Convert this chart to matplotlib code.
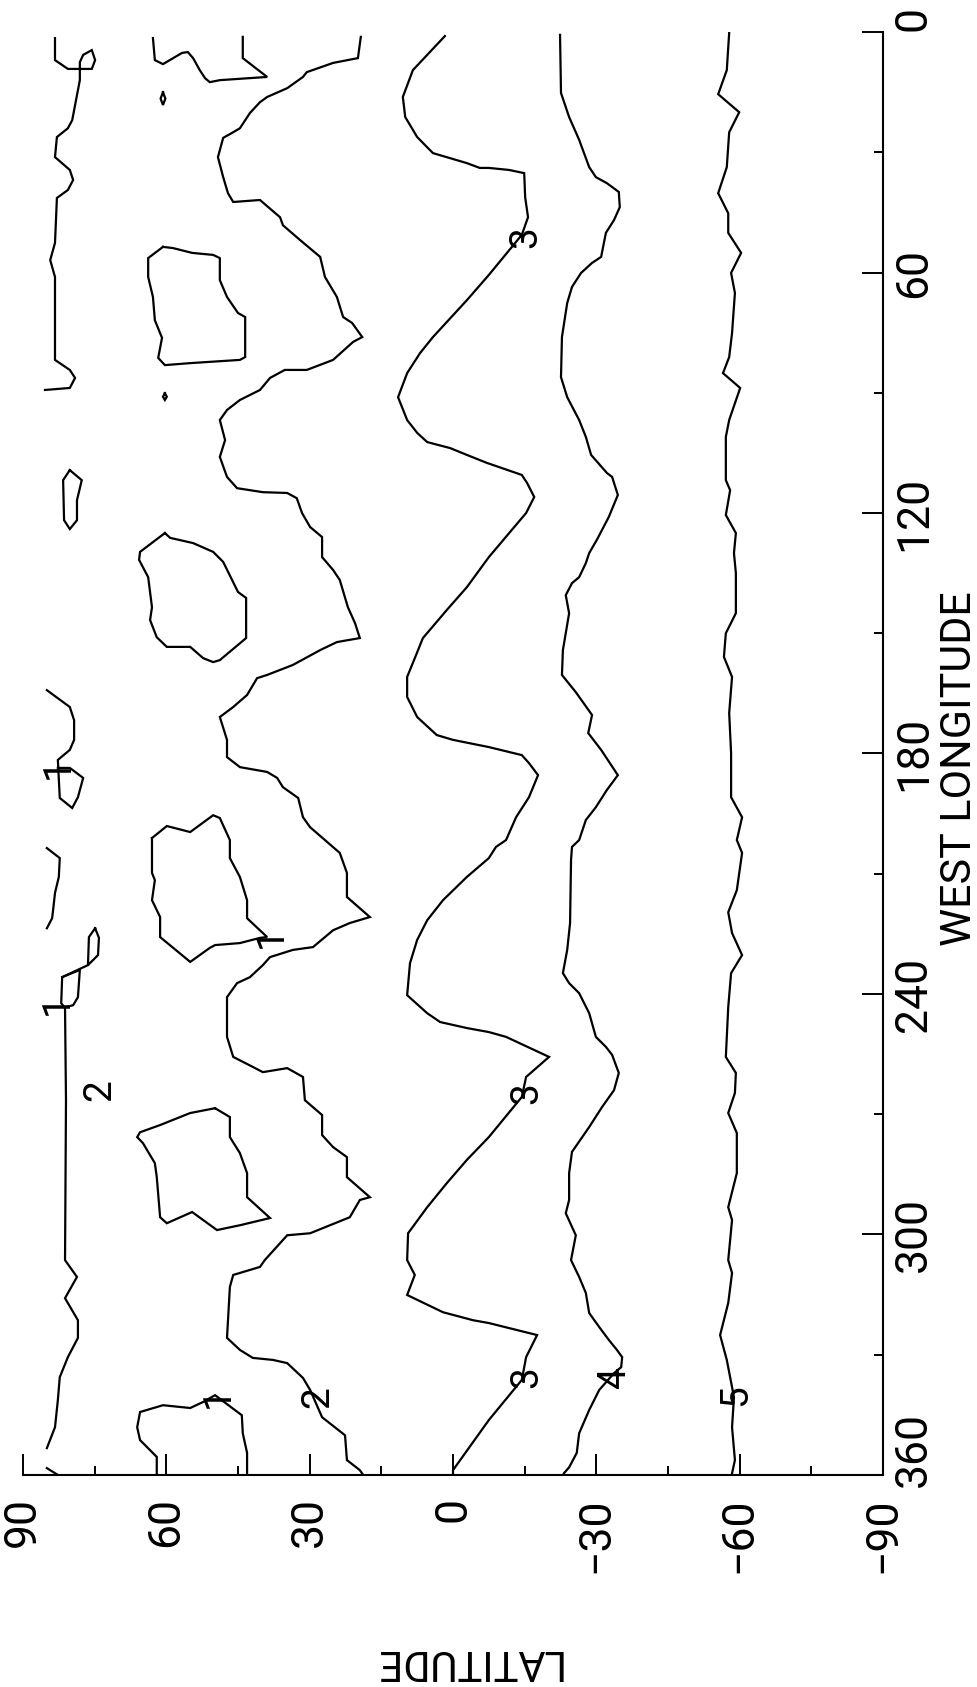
import matplotlib.pyplot as plt
import matplotlib.transforms as mtransforms

plt.rcParams['font.family'] = ['Roboto', 'DejaVu Sans']

# contour lines as (west longitude, latitude)
c5_lon = [0.2, 9.5, 15.5, 20.0, 25.0, 33.7, 40.2, 45.2, 50.1, 55.1, 60.1, 65.1, 75.1, 81.1, 85.1, 88.8,
          96.8, 101.0, 111.8, 114.3, 120.5, 125.0, 130.0, 135.0, 145.0, 150.0, 155.9, 160.9, 169.9, 179.9,
          190.9, 195.9, 201.6, 204.8, 214.1, 219.6, 224.8, 230.3, 234.8, 243.3, 255.7, 259.7, 264.7, 269.7,
          274.7, 284.7, 293.2, 296.4, 306.4, 309.6, 317.1, 325.1, 331.3, 338.1, 340.6, 348.1, 356.3, 359.6]
c5_lat = [-57.8, -57.3, -55.5, -59.9, -57.8, -57.3, -55.5, -57.6, -57.6, -60.3, -58.2, -59.0, -58.4, -57.8,
          -56.5, -60.1, -57.8, -57.1, -57.1, -58.0, -57.1, -59.2, -58.8, -59.2, -59.2, -57.1, -56.7, -58.4,
          -57.8, -58.2, -58.2, -60.5, -59.4, -60.5, -59.4, -57.6, -58.4, -60.5, -58.2, -57.6, -57.1, -59.2,
          -59.0, -57.6, -59.4, -59.4, -57.6, -58.4, -57.6, -58.4, -57.6, -55.9, -57.3, -58.4, -58.8, -58.4,
          -59.0, -58.4]

c4_lon = [0.7, 15.2, 21.2, 26.9, 33.7, 36.2, 37.7, 39.9, 43.7, 46.9, 50.1, 56.1, 57.6, 60.1, 63.6, 67.6,
          76.1, 86.1, 91.1, 96.8, 101.0, 105.5, 110.0, 111.0, 115.5, 121.0, 126.7, 130.0, 132.5, 136.0,
          137.5, 140.5, 145.0, 154.2, 160.4, 164.7, 170.4, 174.9, 179.1, 185.4, 189.1, 193.4, 196.6, 201.6,
          203.3, 206.6, 222.3, 229.0, 234.8, 237.3, 239.8, 244.8, 250.7, 253.2, 255.2, 259.7, 264.0, 268.2,
          273.2, 279.4, 284.7, 291.4, 294.7, 300.2, 306.4, 310.6, 314.6, 319.6, 323.1, 326.3, 328.8, 330.6,
          333.1, 334.6, 338.8, 343.8, 349.6, 354.5, 358.1, 359.6]
c4_lat = [-22.4, -22.6, -24.3, -26.4, -28.5, -29.9, -32.2, -34.7, -34.9, -33.7, -32.0, -31.0, -29.1, -26.8,
          -24.9, -23.9, -22.8, -22.6, -23.9, -26.4, -27.8, -28.9, -32.2, -33.3, -34.5, -32.6, -30.1, -28.5,
          -27.8, -26.4, -24.9, -23.6, -24.3, -23.0, -22.8, -25.7, -29.1, -28.3, -31.0, -34.5, -32.2, -29.9,
          -27.8, -26.4, -24.9, -24.7, -24.5, -23.9, -23.0, -24.3, -26.4, -28.5, -29.9, -32.0, -33.3, -34.7,
          -33.7, -31.2, -28.5, -24.9, -24.3, -24.3, -23.6, -25.7, -24.7, -26.4, -27.8, -28.5, -30.6, -32.6,
          -34.3, -35.4, -35.2, -33.7, -30.6, -28.5, -26.4, -25.9, -24.3, -23.2]

c3_lon = [1.0, 9.5, 16.2, 21.2, 26.2, 30.2, 32.7, 33.9, 33.9, 34.4, 35.2, 41.2, 46.2, 50.6, 60.6, 66.9,
          76.1, 80.1, 85.1, 91.1, 96.8, 100.0, 102.3, 103.8, 105.5, 107.5, 110.5, 112.5, 116.0, 120.0,
          131.0, 138.5, 144.2, 151.2, 157.4, 160.9, 165.9, 170.9, 175.4, 176.6, 178.4, 180.4, 182.4, 185.4,
          190.9, 195.9, 201.6, 203.3, 206.1, 210.8, 216.6, 221.6, 226.5, 232.3, 240.3, 244.8, 247.0, 248.5,
          249.5, 250.7, 255.7, 260.7, 265.7, 275.7, 281.4, 287.2, 293.2, 299.7, 306.4, 310.1, 315.1, 319.4,
          321.4, 322.1, 325.1, 330.6, 336.3, 346.3, 358.8, 360.0]
c3_lat = [1.7, 8.4, 10.5, 10.0, 7.5, 4.2, -2.9, -5.6, -7.5, -11.7, -14.9, -15.1, -15.7, -14.4, -7.5, -2.9,
          4.2, 6.9, 9.6, 11.5, 9.6, 7.5, 5.4, 0.6, -2.9, -7.1, -14.4, -15.5, -17.0, -15.3,
          -7.5, -2.9, 1.3, 6.3, 8.4, 9.6, 9.6, 7.5, 3.4, 0.0, -7.5, -14.4, -15.9, -17.8,
          -15.9, -13.2, -11.1, -9.0, -7.5, -2.9, 2.1, 5.4, 7.5, 9.0, 9.6, 5.4, 2.7, -2.9,
          -7.5, -11.1, -20.1, -15.3, -14.4, -7.5, -2.9, 1.3, 5.4, 9.4, 9.6, 8.0, 9.6, 2.1,
          -4.2, -7.5, -17.6, -15.3, -14.4, -7.5, 0.0, 0.0]

c2_lon = [1.2, 6.5, 7.7, 10.0, 11.2, 14.0, 16.2, 17.5, 20.2, 24.0, 25.2, 26.4, 31.2, 36.2, 40.2, 42.4,
          41.9, 46.2, 48.2, 51.9, 56.1, 61.1, 66.1, 71.1, 72.6, 76.1, 77.3, 81.8, 84.3, 84.3, 86.3, 89.3,
          91.8, 94.3, 96.8, 101.8, 106.0, 111.0, 113.8, 114.8, 115.0, 116.3, 120.0, 123.5, 126.0, 131.0,
          134.2, 136.7, 143.5, 147.5, 151.2, 152.2, 154.2, 157.9, 160.4, 161.2, 165.4, 168.4, 170.9, 176.6,
          180.9, 183.4, 184.6, 186.1, 188.4, 191.1, 195.9, 198.4, 201.6, 204.8, 209.8, 215.8, 220.8, 222.3,
          224.1, 228.3, 229.0, 230.8, 232.8, 235.8, 237.3, 240.8, 250.7, 255.7, 258.2, 259.5, 258.5, 260.7,
          266.5, 270.2, 275.2, 278.2, 280.7, 285.7, 290.7, 291.4, 295.7, 299.7, 300.2, 306.4, 308.1, 310.1,
          313.1, 325.8, 328.8, 330.8, 331.3, 332.1, 335.8, 338.8, 345.6, 350.1, 356.3, 358.8, 360.0]
c2_lat = [19.3, 19.9, 25.1, 30.6, 31.4, 34.7, 38.9, 40.4, 42.5, 44.6, 46.3, 48.1, 49.2, 48.1, 47.1, 46.0,
          40.4, 36.2, 35.6, 32.0, 27.8, 26.8, 24.3, 23.0, 21.1, 19.0, 20.9, 25.1, 30.6, 35.2, 38.3, 40.4,
          44.6, 47.3, 48.8, 47.7, 48.8, 47.3, 45.2, 39.8, 34.7, 32.7, 31.6, 29.9, 27.4, 27.4,
          25.1, 23.7, 22.0, 20.5, 19.5, 24.3, 27.8, 33.5, 38.9, 41.0, 43.1, 46.0, 48.8, 47.3,
          47.3, 44.6, 38.9, 36.8, 35.6, 32.4, 31.4, 29.9, 26.8, 23.7, 22.2, 22.2, 17.4, 21.6,
          25.1, 29.3, 33.5, 38.3, 39.8, 42.5, 45.2, 47.3, 47.3, 46.0, 41.9, 39.8, 34.7, 31.4,
          31.0, 27.4, 27.4, 25.1, 22.2, 22.2, 17.4, 19.5, 21.6, 29.9, 34.7, 39.4, 40.4, 46.0,
          46.7, 47.3, 44.6, 41.9, 37.7, 34.7, 31.4, 29.9, 27.4, 22.6, 22.2, 19.5, 18.8]

# closed cells between 40N and 65N
isl_a_lon = [53.6, 56.4, 61.1, 66.1, 71.9, 76.3, 81.3, 83.1, 82.6, 81.8, 81.1, 71.1, 70.1, 66.1, 61.9,
             56.4, 55.6, 55.1, 53.9, 53.6]
isl_a_lat = [60.7, 63.8, 63.8, 62.8, 62.4, 60.9, 61.7, 60.3, 55.0, 44.6, 43.5, 43.5, 45.0, 47.3, 48.8,
             48.8, 50.2, 54.6, 58.6, 60.7]
isl_b_lon = [125.0, 129.7, 131.7, 136.0, 143.5, 146.7, 151.0, 153.4, 153.4, 156.2, 157.2, 156.7, 151.2,
             141.2, 139.7, 132.2, 129.7, 127.5, 126.2, 125.0]
isl_b_lat = [60.3, 65.5, 65.7, 63.8, 63.0, 63.4, 62.0, 59.9, 55.0, 52.3, 50.2, 48.8, 43.3, 43.3, 45.0,
             48.1, 50.2, 54.4, 59.2, 60.3]
isl_c_lon = [201.1, 209.8, 211.6, 216.6, 220.8, 225.8, 232.0, 228.5, 227.8, 227.3, 226.0, 225.8, 221.1,
             216.6, 210.8, 206.1, 201.6, 196.1, 195.4, 199.6, 198.1, 201.1]
isl_c_lat = [63.0, 63.0, 62.4, 63.0, 61.3, 61.3, 55.0, 50.9, 49.8, 44.6, 40.4, 38.9, 43.1, 43.1, 44.6,
             46.7, 46.7, 48.8, 50.2, 55.0, 59.9, 63.0]
isl_d_lon = [268.5, 270.7, 275.7, 279.7, 284.7, 290.7, 295.9, 297.7, 298.9, 294.4, 297.2, 295.7, 285.7,
             282.2, 277.2, 275.7, 274.5, 272.7, 269.7, 268.5]
isl_d_lat = [49.8, 46.7, 46.7, 44.6, 43.1, 43.1, 38.3, 44.6, 49.4, 54.6, 59.9, 61.3, 62.0, 62.4, 64.9,
             66.1, 65.5, 61.3, 55.0, 49.8]
isl_e_lon = [109.3, 111.8, 116.8, 121.8, 124.0, 121.8, 111.8, 109.3]
isl_e_lat = [80.2, 77.7, 78.7, 78.7, 80.2, 81.4, 81.6, 80.2]
dot1_lon = [15.0, 16.6, 18.2, 16.6, 15.0]
dot1_lat = [60.7, 60.2, 60.7, 61.2, 60.7]
dot2_lon = [90.1, 91.0, 91.8, 91.0, 90.1]
dot2_lat = [60.3, 59.9, 60.3, 60.7, 60.3]

# broken lines near the pole
p1_lon = [1.5, 7.0, 9.2, 9.2, 7.0, 4.5, 5.7, 7.5, 12.0, 22.0, 24.0, 26.2, 31.2, 34.4, 36.9, 39.4, 41.4,
          52.6, 56.9, 61.1, 81.8, 84.3, 86.3, 88.8, 89.3]
p1_lat = [83.3, 83.3, 80.6, 75.6, 74.9, 75.6, 77.4, 78.1, 78.1, 79.7, 80.6, 82.9, 83.3, 80.2, 79.5, 80.6,
          82.9, 83.3, 84.3, 83.3, 83.3, 80.2, 79.1, 80.2, 85.4]
p2_lon = [1.5, 7.0, 8.0, 5.2, 5.0, 6.5, 9.5, 11.5, 12.5, 12.0, 11.2, 6.5, 1.2]
p2_lat = [62.8, 62.4, 60.7, 56.7, 55.5, 54.4, 53.0, 51.9, 50.9, 48.8, 38.9, 44.0, 44.0]
p3_lon = [164.2, 168.4, 171.7, 176.6, 179.1, 181.6, 191.1, 193.6, 190.9, 186.1, 183.6, 183.6]
p3_lat = [85.0, 80.2, 79.3, 79.3, 80.2, 82.7, 82.3, 79.7, 78.5, 77.4, 80.2, 82.7]
p4_lon = [203.6, 206.1, 210.8, 214.8, 219.1, 221.1, 223.6]
p4_lat = [85.0, 82.3, 82.5, 83.3, 83.7, 83.9, 85.0]
p5_lon = [223.6, 226.0, 230.3, 232.8, 225.8, 223.6]
p5_lat = [74.9, 74.1, 74.3, 76.4, 76.2, 74.9]
p6_lon = [232.8, 235.8, 242.3, 243.5, 266.5, 306.4, 310.6, 315.9, 321.4, 325.8, 330.6, 335.6, 341.3,
          348.1, 353.3]
p6_lat = [76.4, 81.8, 82.0, 81.2, 81.0, 81.2, 78.7, 81.2, 78.5, 78.5, 80.6, 82.3, 82.7, 83.3, 85.0]
p7_lon = [235.8, 234.0, 240.8, 242.8, 243.3]
p7_lat = [81.8, 78.1, 78.5, 79.5, 81.2]
p8_lon = [358.3, 360.0]
p8_lat = [85.0, 82.7]
p9_lon = [360.0, 355.5, 351.3, 348.1, 344.3, 342.6, 343.3, 341.8, 340.1, 345.1, 349.6, 354.5, 360.0]
p9_lat = [62.0, 62.0, 65.5, 66.1, 65.5, 60.7, 55.0, 52.3, 49.8, 44.2, 44.0, 43.1, 43.1]

# contour labels
lab_text = ['3', '3', '3', '4', '5', '2', '2', '1', '1', '1', '1']
lab_lon = [51.1, 264.7, 335.6, 335.6, 340.1, 340.6, 264.0, 225.8, 340.6, 183.6, 242.5]
lab_lat = [-15.3, -15.5, -15.5, -33.7, -59.2, 28.3, 73.9, 38.1, 49.2, 82.7, 82.9]

lat_ticks = [90, 60, 30, 0, -30, -60, -90]
lat_minor = [75, 45, 15, -15, -45, -75]
lon_ticks = [0, 60, 120, 180, 240, 300, 360]
lon_minor = [30, 90, 150, 210, 270, 330]

fig = plt.figure(figsize=(9.78, 16.87), dpi=100)
ax = fig.add_axes([0.0235, 0.1257, 0.8794, 0.8553])

lines = [(c5_lon, c5_lat), (c4_lon, c4_lat), (c3_lon, c3_lat), (c2_lon, c2_lat),
         (isl_a_lon, isl_a_lat), (isl_b_lon, isl_b_lat), (isl_c_lon, isl_c_lat),
         (isl_d_lon, isl_d_lat), (isl_e_lon, isl_e_lat), (dot1_lon, dot1_lat), (dot2_lon, dot2_lat),
         (p1_lon, p1_lat), (p2_lon, p2_lat), (p3_lon, p3_lat), (p4_lon, p4_lat), (p5_lon, p5_lat),
         (p6_lon, p6_lat), (p7_lon, p7_lat), (p8_lon, p8_lat), (p9_lon, p9_lat)]
for lon, lat in lines:
    ax.plot(lat, lon, color='black', lw=1.6, solid_joinstyle='miter')

for t, lo, la in zip(lab_text, lab_lon, lab_lat):
    ax.text(la, lo, t, rotation=90, ha='center', va='center', fontsize=28)

# latitude runs right to left, longitude top to bottom (chart turned on its side)
ax.set_xlim(90, -90)
ax.set_ylim(360, 0)

ax.spines['top'].set_visible(False)
ax.spines['left'].set_visible(False)
ax.spines['bottom'].set_linewidth(1.5)
ax.spines['right'].set_linewidth(1.5)

ax.set_xticks(lat_ticks)
ax.set_xticklabels([str(t).replace('-', '\u2212') for t in lat_ticks])
ax.set_xticks(lat_minor, minor=True)
ax.yaxis.tick_right()
ax.set_yticks(lon_ticks)
ax.set_yticklabels([str(t) for t in lon_ticks])
ax.set_yticks(lon_minor, minor=True)

ax.tick_params(axis='x', which='major', direction='in', length=15, width=1.4, pad=16,
               labelsize=32, labelrotation=90)
ax.tick_params(axis='x', which='minor', direction='in', length=6.5, width=1.4)
ax.tick_params(axis='y', which='major', direction='in', length=15, width=1.4, pad=7,
               labelsize=32, labelrotation=90, left=False, right=True)
ax.tick_params(axis='y', which='minor', direction='in', length=6.5, width=1.4, left=False, right=True)

for lbl in ax.get_yticklabels():
    lbl.set_va('center')
ylabs = ax.get_yticklabels()
ylabs[0].set_transform(ylabs[0].get_transform() +
                       mtransforms.ScaledTranslation(0, 0.14, fig.dpi_scale_trans))
ylabs[-1].set_transform(ylabs[-1].get_transform() +
                        mtransforms.ScaledTranslation(0, 0.25, fig.dpi_scale_trans))

fig.text(960 / 978, 1 - 769 / 1687, 'WEST LONGITUDE', rotation=90, ha='center', va='center', fontsize=31)
fig.text(466 / 978, 1 - 1662 / 1687, 'LATITUDE', rotation=180, ha='center', va='center', fontsize=30)

fig.savefig('out.png', dpi=100)
